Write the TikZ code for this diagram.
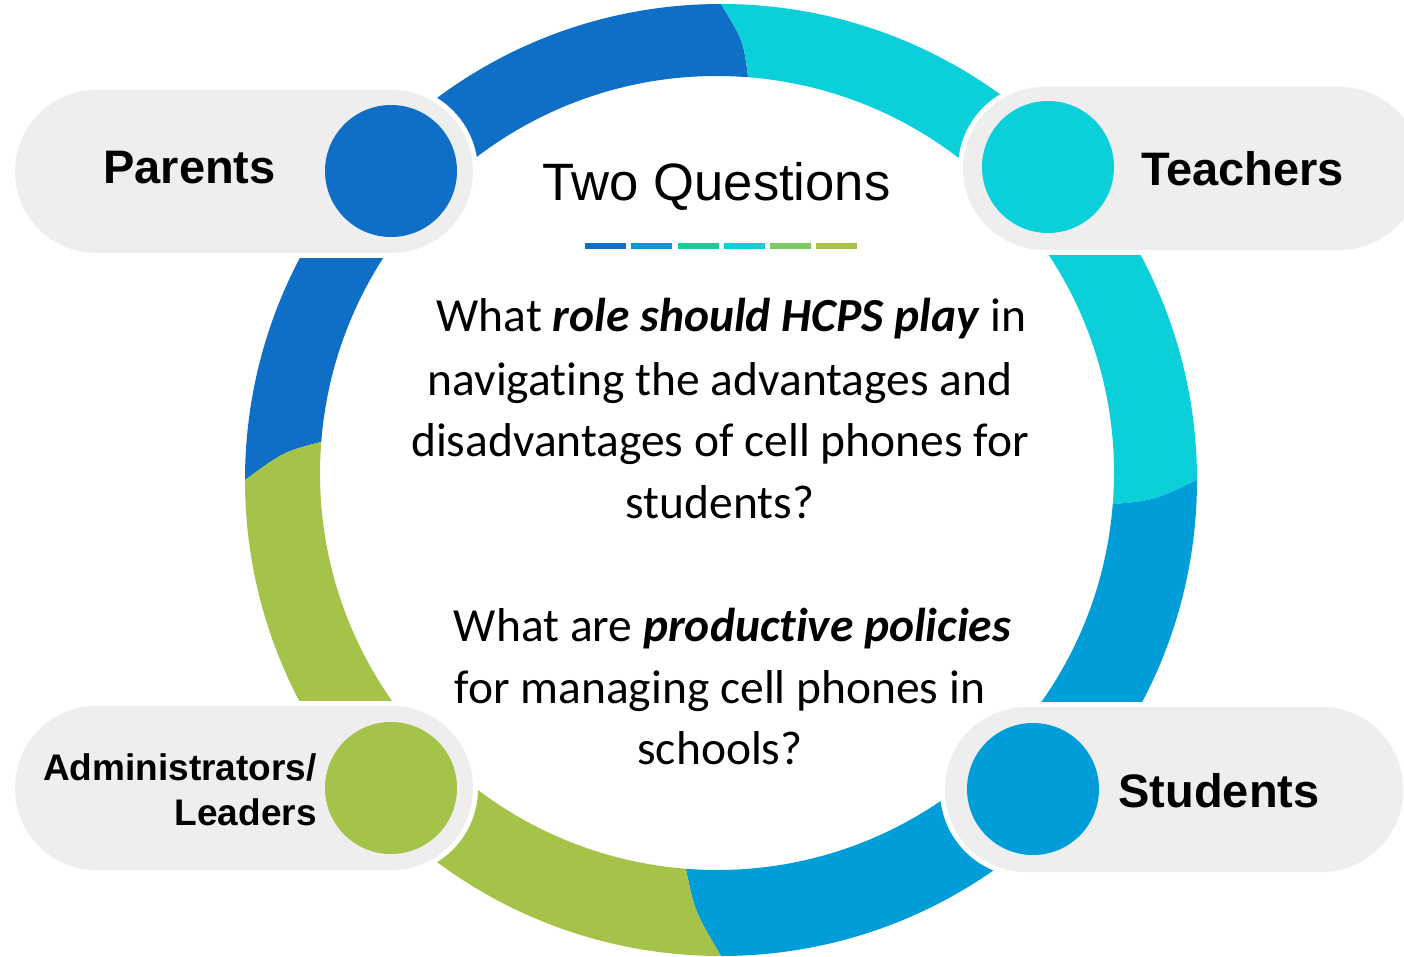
\documentclass[tikz,border=0pt]{standalone}
\usepackage{fontspec}
\setmainfont[Ligatures=NoCommon]{Carlito}
\newfontfamily\labelfont{Liberation Sans}
\usetikzlibrary{calc}
\definecolor{acA}{HTML}{0F6FC6}
\definecolor{acB}{HTML}{009DD9}
\definecolor{acC}{HTML}{0BD0D9}
\definecolor{acD}{HTML}{10CF9B}
\definecolor{acE}{HTML}{7CCA62}
\definecolor{acF}{HTML}{A5C249}
\definecolor{pillgray}{HTML}{EEEEEE}
\newcommand\ringseg[3]{%
  \fill[#1] ($(Oc)+(#2:476)$) arc[start angle=#2, end angle=#3, radius=476]
    .. controls ($(Mc)+({#3+3.2}:436)$) .. ($(Ic)+({#3+4.5}:397)$)
    arc[start angle={#3+4.5}, end angle={#2+4.5}, radius=397]
    .. controls ($(Mc)+({#2+3.2}:436)$) .. ($(Oc)+(#2:476)$) -- cycle;}
\begin{document}
\begin{tikzpicture}[x=0.5pt,y=-0.5pt,
  pill/.style={fill=pillgray, rounded corners=40.75pt},
  pillrim/.style={fill=white, rounded corners=43.25pt},
  dot/.style={circle, inner sep=0pt, minimum size=66pt},
  who/.style={font=\labelfont\bfseries\fontsize{23.5}{28}\selectfont, inner sep=0pt, anchor=base},
  whosmall/.style={font=\labelfont\bfseries\fontsize{18.5}{22}\selectfont, inner sep=0pt, anchor=base east},
  qline/.style={font=\fontsize{23.75}{30}\selectfont, inner sep=0pt, anchor=base},
  barseg/.style={inner sep=0pt, minimum width=20.5pt, minimum height=3pt, anchor=north west}]
\useasboundingbox (0,0) rectangle (1404,957);
\clip (0,0) rectangle (1404,957);
\fill[white] (0,0) rectangle (1404,957);
\coordinate (Oc) at (721,480);
\coordinate (Ic) at (717,473);
\coordinate (Mc) at (719,476);
% ring
\ringseg{acA}{180}{270}
\ringseg{acC}{270}{360}
\ringseg{acB}{0}{90}
\ringseg{acF}{90}{180}
% pills
\fill[pillrim] (10,85) rectangle (478,258);
\fill[pill] (15,90) rectangle (473,253);
\fill[pillrim] (958,82) rectangle (1426,255);
\fill[pill] (963,87) rectangle (1421,250);
\fill[pillrim] (10,701) rectangle (478,875);
\fill[pill] (15,706) rectangle (473,870);
\fill[pillrim] (940,702) rectangle (1408,877);
\fill[pill] (945,707) rectangle (1403,872);
% circles
\node[dot, fill=acA] (dpar) at (391,171) {};
\node[dot, fill=acC] (dtea) at (1048,167) {};
\node[dot, fill=acB] (dstu) at (1033,789) {};
\node[dot, fill=acF] (dadm) at (391,788) {};
% labels
\node[who] (lpar) at (189.5,184) {Parents};
\node[who] (ltea) at (1242.5,186) {Teachers};
\node[who] (lstu) at (1219,807) {Students};
\node[whosmall] (ladm1) at (317,780) {Administrators/};
\node[whosmall] (ladm2) at (317,825) {Leaders};
% title
\node[inner sep=0pt, anchor=base, font=\labelfont\fontsize{26.3}{30}\selectfont] (title) at (716.5,201) {Two Questions};
% colour bar
\node[barseg, fill=acA] (b1) at (585,243) {};
\node[barseg, fill=acB] (b2) at (631,243) {};
\node[barseg, fill=acD] (b3) at (678,243) {};
\node[barseg, fill=acC] (b4) at (724,243) {};
\node[barseg, fill=acE] (b5) at (770,243) {};
\node[barseg, fill=acF] (b6) at (816,243) {};
% questions
\node[qline] (q1) at (731.5,332) {What \textbf{\textit{role should HCPS play}} in};
\node[qline] (q2) at (720,395) {navigating the advantages and};
\node[qline] (q3) at (720,457) {disadvantages of cell phones for};
\node[qline] (q4) at (720,518) {students?};
\node[qline] (q5) at (732.5,641) {What are \textbf{\textit{productive policies}}};
\node[qline] (q6) at (720,703) {for managing cell phones in};
\node[qline] (q7) at (720,764) {schools?};
\end{tikzpicture}
\end{document}
